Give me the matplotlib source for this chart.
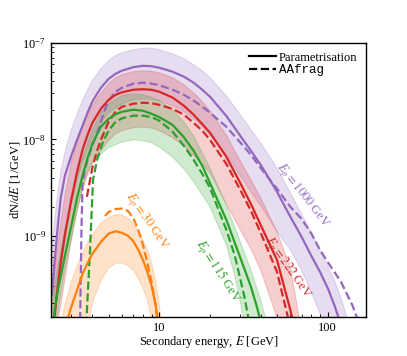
import numpy as np
import matplotlib
matplotlib.use("Agg")
import matplotlib.pyplot as plt
from matplotlib.ticker import FuncFormatter, NullFormatter, FixedLocator, LogFormatterSciNotation
from matplotlib.lines import Line2D

plt.rcParams['font.family'] = ['Liberation Serif', 'DejaVu Serif']
plt.rcParams['mathtext.fontset'] = 'stix'

# ---------------- data (E in GeV, dN/dE in 1/GeV) ----------------
# Ep = 1000 GeV
p_par_E = [2.3, 2.4, 2.5, 2.6, 2.75, 3, 3.25, 3.5, 3.75, 4, 4.5, 5, 5.5, 6, 7, 8, 9, 10, 12, 14, 16, 18, 20,
           25, 30, 35, 40, 50, 60, 70, 80, 90, 100, 110, 120]
p_par_V = [2.37e-10, 5.86e-10, 1.29e-9, 2.47e-9, 4.18e-9, 6.73e-9, 9.88e-9, 1.38e-8, 1.89e-8, 2.46e-8, 3.43e-8,
           4.24e-8, 4.79e-8, 5.16e-8, 5.61e-8, 5.80e-8, 5.74e-8, 5.54e-8, 5.03e-8, 4.47e-8, 3.87e-8, 3.27e-8,
           2.77e-8, 1.75e-8, 1.11e-8, 7.60e-9, 5.43e-9, 2.85e-9, 1.57e-9, 9.7e-10, 6.15e-10, 4.20e-10,
           2.86e-10, 1.86e-10, 1.18e-10]
p_aaf_E = [3.38, 3.45, 3.5, 3.6, 3.75, 4, 4.25, 4.5, 4.75, 5, 5.5, 6, 7, 8, 9, 10, 12, 14, 16, 18, 20, 25, 30,
           35, 40, 50, 60, 70, 80, 90, 100, 120, 140, 155]
p_aaf_V = [1.0e-10, 1.15e-9, 3.37e-9, 4.6e-9, 6.12e-9, 8.55e-9, 1.14e-8, 1.52e-8, 2.03e-8, 2.52e-8, 3.12e-8,
           3.43e-8, 3.78e-8, 3.87e-8, 3.78e-8, 3.65e-8, 3.27e-8, 2.90e-8, 2.52e-8, 2.18e-8, 1.89e-8, 1.35e-8,
           9.44e-9, 6.90e-9, 5.03e-9, 3.07e-9, 1.99e-9, 1.49e-9, 1.05e-9, 7.10e-10, 5.33e-10, 3.30e-10,
           1.9e-10, 1.18e-10]
p_up_E = [2.3, 2.4, 2.5, 2.6, 2.75, 3, 3.25, 3.5, 3.75, 4, 4.5, 5, 5.5, 6, 7, 8, 9, 10, 12, 14, 16, 18, 20,
          25, 30, 35, 40, 50, 60, 70, 80, 90, 100, 110, 120, 130, 140]
p_up_V = [7.1e-10, 1.53e-9, 2.85e-9, 4.6e-9, 7.34e-9, 1.26e-8, 1.84e-8, 2.52e-8, 3.27e-8, 4.06e-8, 5.4e-8,
          6.57e-8, 7.4e-8, 7.95e-8, 8.5e-8, 8.85e-8, 8.85e-8, 8.52e-8, 7.73e-8, 6.85e-8, 5.95e-8, 5.16e-8,
          4.36e-8, 2.84e-8, 1.84e-8, 1.26e-8, 9.2e-9, 5.03e-9, 2.78e-9, 1.68e-9, 1.07e-9, 7.1e-10, 4.84e-10,
          3.38e-10, 2.25e-10, 1.43e-10, 8.9e-11]
p_lo_E = [2.4, 2.5, 2.75, 3, 3.25, 3.5, 4, 4.5, 5, 6, 7, 8, 9, 10, 12, 14, 16, 18, 20, 25, 30, 35, 40, 50,
          60, 70, 80, 90, 95]
p_lo_V = [1.33e-10, 2.73e-10, 9.02e-10, 2.08e-9, 3.79e-9, 5.83e-9, 1.04e-8, 1.48e-8, 1.89e-8, 2.34e-8,
          2.57e-8, 2.63e-8, 2.60e-8, 2.52e-8, 2.23e-8, 1.93e-8, 1.63e-8, 1.35e-8, 1.11e-8, 6.9e-9, 4.28e-9,
          2.85e-9, 2.04e-9, 1.10e-9, 7.1e-10, 4.40e-10, 2.6e-10, 1.55e-10, 1.18e-10]

# Ep = 222 GeV
r_par_E = [2.3, 2.4, 2.5, 2.6, 2.75, 3, 3.25, 3.5, 3.75, 4, 4.5, 5, 5.5, 6, 7, 8, 9, 10, 12, 14, 16, 18, 20,
           25, 30, 35, 40, 50, 60, 65]
r_par_V = [9.3e-11, 1.57e-10, 3.07e-10, 5.33e-10, 1.02e-9, 2.35e-9, 4.6e-9, 7.78e-9, 1.11e-8, 1.48e-8,
           2.07e-8, 2.57e-8, 2.90e-8, 3.08e-8, 3.27e-8, 3.31e-8, 3.27e-8, 3.12e-8, 2.71e-8, 2.23e-8, 1.80e-8,
           1.44e-8, 1.17e-8, 6.6e-9, 3.62e-9, 2.13e-9, 1.29e-9, 5.59e-10, 1.69e-10, 9.3e-11]
r_aaf_E = [3.72, 3.85, 4, 4.25, 4.5, 5, 5.5, 6, 7, 8, 9, 10, 12, 14, 16, 18, 20, 25, 30, 35, 40, 50, 58, 62]
r_aaf_V = [2.53e-9, 3.53e-9, 5.03e-9, 7.4e-9, 9.88e-9, 1.52e-8, 1.93e-8, 2.18e-8, 2.34e-8, 2.40e-8, 2.37e-8,
           2.28e-8, 2.07e-8, 1.80e-8, 1.48e-8, 1.23e-8, 9.88e-9, 5.56e-9, 3.07e-9, 1.81e-9, 1.07e-9,
           4.20e-10, 1.43e-10, 9.3e-11]
r_up_E = [2.3, 2.4, 2.5, 2.6, 2.75, 3, 3.25, 3.5, 4, 4.5, 5, 5.5, 6, 7, 8, 9, 10, 12, 14, 16, 18, 20, 25, 30,
          35, 40, 50, 60, 65, 68]
r_up_V = [2.15e-10, 4.40e-10, 8.0e-10, 1.35e-9, 2.60e-9, 5.7e-9, 9.44e-9, 1.38e-8, 2.23e-8, 3.03e-8, 3.78e-8,
          4.35e-8, 4.68e-8, 5.03e-8, 5.15e-8, 5.09e-8, 4.90e-8, 4.35e-8, 3.69e-8, 3.03e-8, 2.46e-8, 1.98e-8,
          1.11e-8, 6.12e-9, 3.79e-9, 2.47e-9, 1.10e-9, 4.62e-10, 2.15e-10, 1.33e-10]
r_lo_E = [2.4, 2.5, 2.75, 3, 3.25, 3.5, 3.75, 4, 4.5, 5, 5.5, 6, 7, 8, 9, 10, 12, 14, 16, 18, 20, 25, 30, 35,
          40, 50, 53]
r_lo_V = [7.4e-11, 1.27e-10, 3.46e-10, 9.02e-10, 1.85e-9, 2.99e-9, 4.28e-9, 5.56e-9, 7.6e-9, 9.66e-9,
          1.14e-8, 1.23e-8, 1.32e-8, 1.34e-8, 1.31e-8, 1.23e-8, 1.04e-8, 8.55e-9, 6.75e-9, 5.43e-9, 4.46e-9,
          2.13e-9, 1.18e-9, 7.3e-10, 4.40e-10, 1.40e-10, 9.3e-11]

# Ep = 115 GeV
g_par_E = [2.3, 2.4, 2.5, 2.6, 2.75, 3, 3.25, 3.5, 3.75, 4, 4.5, 5, 5.5, 6, 7, 8, 9, 10, 12, 14, 16, 18, 20,
           25, 30, 35, 38, 40]
g_par_V = [1.05e-10, 1.77e-10, 2.73e-10, 3.80e-10, 6.15e-10, 1.26e-9, 2.47e-9, 4.18e-9, 6.4e-9, 8.98e-9,
           1.35e-8, 1.63e-8, 1.82e-8, 1.93e-8, 2.03e-8, 1.98e-8, 1.84e-8, 1.70e-8, 1.41e-8, 1.05e-8, 7.6e-9,
           5.3e-9, 3.53e-9, 1.46e-9, 6.15e-10, 2.95e-10, 1.82e-10, 1.27e-10]
g_aaf_E = [3.68, 3.88, 4.04, 4.27, 4.63, 5, 5.5, 6, 7, 8, 9, 10, 12, 14, 16, 18, 20, 25, 28, 30, 32, 34]
g_aaf_V = [1.18e-10, 7.10e-10, 3.79e-9, 6.12e-9, 9.44e-9, 1.23e-8, 1.52e-8, 1.65e-8, 1.76e-8, 1.76e-8,
           1.70e-8, 1.56e-8, 1.20e-8, 8.55e-9, 6.12e-9, 4.37e-9, 3.14e-9, 1.15e-9, 6.30e-10, 3.80e-10,
           2.33e-10, 1.33e-10]
g_up_E = [2.3, 2.5, 2.75, 3, 3.25, 3.5, 4, 4.5, 5, 6, 7, 8, 9, 10, 12, 14, 16, 18, 20, 25, 30, 35, 40, 43]
g_up_V = [1.90e-10, 4.96e-10, 1.15e-9, 2.25e-9, 4.08e-9, 6.4e-9, 1.26e-8, 1.89e-8, 2.34e-8, 2.85e-8,
          2.96e-8, 2.90e-8, 2.73e-8, 2.52e-8, 2.03e-8, 1.52e-8, 1.08e-8, 7.3e-9, 5.03e-9, 2.08e-9, 9.02e-10,
          4.40e-10, 2.15e-10, 1.33e-10]
g_lo_E = [2.4, 2.5, 2.75, 3, 3.25, 3.5, 3.75, 4, 4.5, 5, 6, 7, 8, 9, 10, 12, 14, 16, 18, 20, 25, 28, 30, 32]
g_lo_V = [1.05e-10, 1.62e-10, 4.40e-10, 9.02e-10, 1.76e-9, 3.22e-9, 4.60e-9, 5.7e-9, 7.04e-9, 8.2e-9,
          9.4e-9, 9.88e-9, 9.66e-9, 9.2e-9, 8.3e-9, 6.55e-9, 4.93e-9, 3.62e-9, 2.65e-9, 1.99e-9, 8.0e-10,
          3.90e-10, 2.25e-10, 1.18e-10]

# Ep = 30 GeV
o_par_E = [2.85, 3, 3.25, 3.5, 3.75, 4, 4.5, 5, 5.5, 6, 6.5, 7, 7.5, 8, 8.5, 9, 9.5, 10]
o_par_V = [1.33e-10, 1.82e-10, 2.73e-10, 3.99e-10, 5.19e-10, 6.45e-10, 8.6e-10, 1.05e-9, 1.11e-9, 1.07e-9,
           1.0e-9, 8.8e-10, 7.10e-10, 5.59e-10, 4.18e-10, 3.0e-10, 1.95e-10, 1.05e-10]
o_aaf_E = [4.76, 5, 5.5, 6, 6.5, 7, 7.5, 8, 8.5, 9, 9.5, 9.8]
o_aaf_V = [1.60e-9, 1.76e-9, 1.89e-9, 1.91e-9, 1.81e-9, 1.53e-9, 1.15e-9, 8.0e-10, 5.19e-10, 3.30e-10,
           1.90e-10, 1.18e-10]
o_up_E = [2.6, 2.75, 3, 3.25, 3.5, 3.75, 4, 4.5, 5, 5.5, 6, 6.5, 7, 7.5, 8, 8.5, 9, 9.5, 10, 10.3]
o_up_V = [1.18e-10, 1.90e-10, 3.30e-10, 4.84e-10, 6.6e-10, 8.6e-10, 1.02e-9, 1.35e-9, 1.55e-9, 1.65e-9,
          1.64e-9, 1.53e-9, 1.33e-9, 1.12e-9, 9.02e-10, 7.10e-10, 5.19e-10, 3.46e-10, 1.90e-10, 1.18e-10]
o_lo_E = [3.8, 4, 4.5, 5, 5.5, 6, 6.5, 7, 7.5, 8, 8.5, 9, 9.3]
o_lo_V = [1.18e-10, 2.0e-10, 3.38e-10, 4.6e-10, 5.15e-10, 5.19e-10, 4.9e-10, 4.40e-10, 3.62e-10, 2.86e-10,
          2.15e-10, 1.33e-10, 9.3e-11]

labels = [r"$E_p = 30$ GeV", r"$E_p = 115$ GeV", r"$E_p = 222$ GeV", r"$E_p = 1000$ GeV"]
label_E = [8.45, 22.3, 58.1, 71.4]
label_V = [1.42e-9, 4.2e-10, 4.6e-10, 2.6e-9]
label_rot = [-55, -57, -55, -52]

x_ticks = [10, 100]
y_ticks = [1e-9, 1e-8, 1e-7]

colors = ['#ff7f0e', '#2ca02c', '#d62728', '#9467bd']

series = [
    (o_par_E, o_par_V, o_aaf_E, o_aaf_V, o_up_E, o_up_V, o_lo_E, o_lo_V),
    (g_par_E, g_par_V, g_aaf_E, g_aaf_V, g_up_E, g_up_V, g_lo_E, g_lo_V),
    (r_par_E, r_par_V, r_aaf_E, r_aaf_V, r_up_E, r_up_V, r_lo_E, r_lo_V),
    (p_par_E, p_par_V, p_aaf_E, p_aaf_V, p_up_E, p_up_V, p_lo_E, p_lo_V),
]

# ---------------- figure ----------------
fig = plt.figure(figsize=(4.07, 3.56), dpi=100)
ax = fig.add_axes([51 / 407, 39 / 356, 315 / 407, 274 / 356])
ax.set_xscale('log')
ax.set_yscale('log')

for col, s in zip(colors[::-1], series[::-1]):
    pE, pV, aE, aV, uE, uV, lE, lV = s
    ax.fill(np.concatenate([uE, lE[::-1]]), np.concatenate([uV, lV[::-1]]),
            color=col, alpha=0.22, lw=0.8)

for col, s in zip(colors[::-1], series[::-1]):
    pE, pV, aE, aV, uE, uV, lE, lV = s
    ax.plot(pE, pV, color=col, lw=1.6, solid_capstyle='butt')
    ax.plot(aE, aV, color=col, lw=1.6, ls='--')

for txt, e, v, r, col in zip(labels, label_E, label_V, label_rot, colors):
    ax.text(e, v, txt, color=col, rotation=r, ha='center', va='center', fontsize=9,
            rotation_mode='anchor')

ax.set_xlim(2.275, 168.8)
ax.set_ylim(1.43e-10, 1.0e-7)

ax.xaxis.set_major_locator(FixedLocator(x_ticks))
ax.yaxis.set_major_locator(FixedLocator(y_ticks))
ax.xaxis.set_major_formatter(FuncFormatter(lambda x, p: f"{x:g}"))
ax.yaxis.set_major_formatter(LogFormatterSciNotation())
ax.xaxis.set_minor_formatter(NullFormatter())
ax.yaxis.set_minor_formatter(NullFormatter())
ax.tick_params(which='both', direction='in', top=False, right=False, labelsize=9)
ax.tick_params(which='major', length=3.5, width=0.8)
ax.tick_params(which='minor', length=2, width=0.6)
for sp in ax.spines.values():
    sp.set_linewidth(1.0)

ax.set_xlabel(r"Secondary energy, $E$ [GeV]", fontsize=9, labelpad=0)
ax.set_ylabel(r"dN/$dE$ [1/GeV]", fontsize=9, labelpad=0)

handles = [Line2D([], [], color='k', lw=1.6), Line2D([], [], color='k', lw=1.6, ls='--')]
leg = ax.legend(handles, ['Parametrisation', 'AAfrag'], loc='upper right', frameon=False, fontsize=9,
                handlelength=2.2, handletextpad=0.2, labelspacing=0.05, borderaxespad=0.3,
                bbox_to_anchor=(1.0, 1.0))
leg.get_texts()[1].set_family(['Liberation Mono', 'DejaVu Sans Mono'])

fig.savefig('out.png', dpi=100)
